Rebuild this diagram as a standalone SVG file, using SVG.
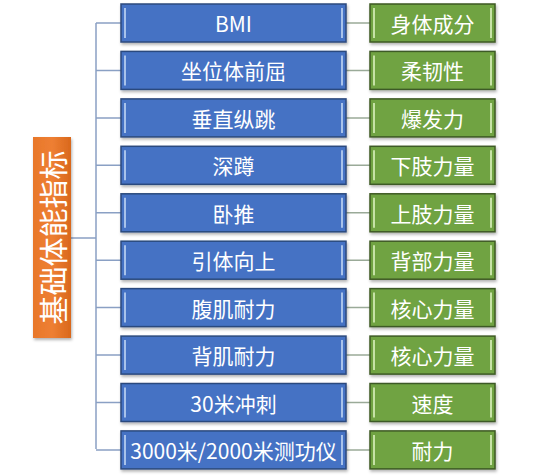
<svg xmlns="http://www.w3.org/2000/svg" width="554" height="476" viewBox="0 0 554 476">
<defs>
<linearGradient id="og" x1="0" y1="0" x2="1" y2="0">
<stop offset="0" stop-color="#E8772A"/><stop offset="0.5" stop-color="#EE7F33"/><stop offset="1" stop-color="#D9681C"/>
</linearGradient>
<filter id="sh" x="-10%" y="-10%" width="130%" height="140%"><feDropShadow dx="1" dy="2" stdDeviation="1.5" flood-color="#000" flood-opacity="0.3"/></filter>
</defs>
<style>
.b{fill:#4472C4;stroke:#2C4A7E;stroke-width:1.5;filter:url(#sh)}
.g{fill:#6FA343;stroke:#3E5A25;stroke-width:1.5;filter:url(#sh)}
.bl{stroke:#A8C2EA;stroke-width:2}
.gl{stroke:#C6E2A6;stroke-width:2}
.t{font-family:"Noto Sans CJK SC","Noto Sans",sans-serif;font-size:21px;fill:#fff;text-anchor:middle;dominant-baseline:central}
.c{stroke:#8AA0C4;stroke-width:1.5;fill:none}
.c2{stroke:#9AAA98;stroke-width:1.5;fill:none}
</style>
<rect width="554" height="476" fill="#fff"/>
<g id="connectors">
<path class="c" d="M71 238H96M96 23V449"/>
<path class="c" d="M96 23H121M96 70.4H121M96 117.9H121M96 165.3H121M96 212.8H121M96 260.2H121M96 307.6H121M96 355.1H121M96 402.5H121M96 449.9H121"/>
<path class="c2" d="M346 23H370M346 70.4H370M346 117.9H370M346 165.3H370M346 212.8H370M346 260.2H370M346 307.6H370M346 355.1H370M346 402.5H370M346 449.9H370"/>
</g>
<g id="root">
<rect x="33" y="137" width="38" height="201" fill="url(#og)" filter="url(#sh)"/>
<text class="t" style="font-size:29px" transform="translate(52 237.5) rotate(-90)">基础体能指标</text>
</g>
<g id="n1"><rect class="b" x="121" y="4" width="225" height="38"/><path class="bl" d="M125 8V38M342 8V38"/><text class="t" x="233.5" y="23">BMI</text></g>
<g id="n2"><rect class="b" x="121" y="51.4" width="225" height="38"/><path class="bl" d="M125 55.4V85.4M342 55.4V85.4"/><text class="t" x="233.5" y="70.4">坐位体前屈</text></g>
<g id="n3"><rect class="b" x="121" y="98.9" width="225" height="38"/><path class="bl" d="M125 102.9V132.9M342 102.9V132.9"/><text class="t" x="233.5" y="117.9">垂直纵跳</text></g>
<g id="n4"><rect class="b" x="121" y="146.3" width="225" height="38"/><path class="bl" d="M125 150.3V180.3M342 150.3V180.3"/><text class="t" x="233.5" y="165.3">深蹲</text></g>
<g id="n5"><rect class="b" x="121" y="193.8" width="225" height="38"/><path class="bl" d="M125 197.8V227.8M342 197.8V227.8"/><text class="t" x="233.5" y="212.8">卧推</text></g>
<g id="n6"><rect class="b" x="121" y="241.2" width="225" height="38"/><path class="bl" d="M125 245.2V275.2M342 245.2V275.2"/><text class="t" x="233.5" y="260.2">引体向上</text></g>
<g id="n7"><rect class="b" x="121" y="288.6" width="225" height="38"/><path class="bl" d="M125 292.6V322.6M342 292.6V322.6"/><text class="t" x="233.5" y="307.6">腹肌耐力</text></g>
<g id="n8"><rect class="b" x="121" y="336.1" width="225" height="38"/><path class="bl" d="M125 340.1V370.1M342 340.1V370.1"/><text class="t" x="233.5" y="355.1">背肌耐力</text></g>
<g id="n9"><rect class="b" x="121" y="383.5" width="225" height="38"/><path class="bl" d="M125 387.5V417.5M342 387.5V417.5"/><text class="t" x="233.5" y="402.5">30米冲刺</text></g>
<g id="n10"><rect class="b" x="121" y="430.9" width="225" height="38"/><path class="bl" d="M125 434.9V464.9M342 434.9V464.9"/><text class="t" x="233.5" y="449.9">3000米/2000米测功仪</text></g>
<g id="m1"><rect class="g" x="370" y="4" width="125" height="38"/><path class="gl" d="M374 8V38M491 8V38"/><text class="t" x="432.5" y="23">身体成分</text></g>
<g id="m2"><rect class="g" x="370" y="51.4" width="125" height="38"/><path class="gl" d="M374 55.4V85.4M491 55.4V85.4"/><text class="t" x="432.5" y="70.4">柔韧性</text></g>
<g id="m3"><rect class="g" x="370" y="98.9" width="125" height="38"/><path class="gl" d="M374 102.9V132.9M491 102.9V132.9"/><text class="t" x="432.5" y="117.9">爆发力</text></g>
<g id="m4"><rect class="g" x="370" y="146.3" width="125" height="38"/><path class="gl" d="M374 150.3V180.3M491 150.3V180.3"/><text class="t" x="432.5" y="165.3">下肢力量</text></g>
<g id="m5"><rect class="g" x="370" y="193.8" width="125" height="38"/><path class="gl" d="M374 197.8V227.8M491 197.8V227.8"/><text class="t" x="432.5" y="212.8">上肢力量</text></g>
<g id="m6"><rect class="g" x="370" y="241.2" width="125" height="38"/><path class="gl" d="M374 245.2V275.2M491 245.2V275.2"/><text class="t" x="432.5" y="260.2">背部力量</text></g>
<g id="m7"><rect class="g" x="370" y="288.6" width="125" height="38"/><path class="gl" d="M374 292.6V322.6M491 292.6V322.6"/><text class="t" x="432.5" y="307.6">核心力量</text></g>
<g id="m8"><rect class="g" x="370" y="336.1" width="125" height="38"/><path class="gl" d="M374 340.1V370.1M491 340.1V370.1"/><text class="t" x="432.5" y="355.1">核心力量</text></g>
<g id="m9"><rect class="g" x="370" y="383.5" width="125" height="38"/><path class="gl" d="M374 387.5V417.5M491 387.5V417.5"/><text class="t" x="432.5" y="402.5">速度</text></g>
<g id="m10"><rect class="g" x="370" y="430.9" width="125" height="38"/><path class="gl" d="M374 434.9V464.9M491 434.9V464.9"/><text class="t" x="432.5" y="449.9">耐力</text></g>
</svg>
